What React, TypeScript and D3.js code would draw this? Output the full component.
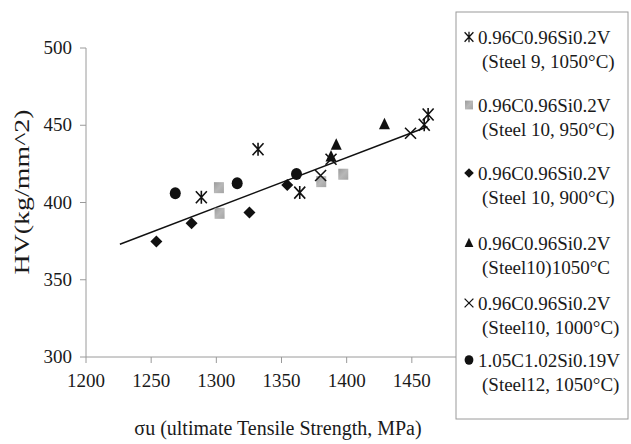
import React from "react";
import { scaleLinear, line } from "d3";

// values: [uts MPa, HV]
const steel9_1050 = [
  [1288.5, 403.4],
  [1332, 434.5],
  [1364, 406.4],
  [1459.5, 450.3],
  [1462.5, 457],
];
const steel10_950 = [
  [1302, 409.6],
  [1302.5, 393],
  [1380.5, 413.5],
  [1397.4, 418.3],
];
const steel10_900 = [
  [1254, 374.7],
  [1281, 386.6],
  [1325.4, 393.5],
  [1354.4, 411.4],
];
const steel10_1050 = [
  [1388, 429.7],
  [1392, 437.3],
  [1429, 450.7],
];
const steel10_1000 = [
  [1380, 417.5],
  [1388, 428],
  [1449, 444.8],
];
const steel12_1050 = [
  [1268.5, 406],
  [1316, 412.5],
  [1361.5, 418.5],
];
const trend = [
  [1226, 373],
  [1462, 449],
];

const xTicks = [1200, 1250, 1300, 1350, 1400, 1450];
const yTicks = [300, 350, 400, 450, 500];

const series = [
  { name: ["0.96C0.96Si0.2V", "(Steel 9, 1050°C)"], shape: "asterisk", data: steel9_1050 },
  { name: ["0.96C0.96Si0.2V", "(Steel 10, 950°C)"], shape: "square", data: steel10_950 },
  { name: ["0.96C0.96Si0.2V", "(Steel 10, 900°C)"], shape: "diamond", data: steel10_900 },
  { name: ["0.96C0.96Si0.2V", "(Steel10)1050°C"], shape: "triangle", data: steel10_1050 },
  { name: ["0.96C0.96Si0.2V", "(Steel10, 1000°C)"], shape: "cross", data: steel10_1000 },
  { name: ["1.05C1.02Si0.19V", "(Steel12, 1050°C)"], shape: "circle", data: steel12_1050 },
];

const FONT = "Liberation Serif, Tinos, DejaVu Serif, serif";
const legendRowY = [37, 105, 173, 243, 303, 360];

const Marker = ({ shape, x, y, s = 1 }) => {
  const t = `translate(${x},${y}) scale(${s})`;
  switch (shape) {
    case "asterisk":
      return (
        <g transform={t} stroke="#111" strokeWidth={1.6} fill="none">
          <path d="M-5.5,-6L5.5,6M-5.5,6L5.5,-6M0,-6.5L0,6.5" />
        </g>
      );
    case "cross":
      return (
        <g transform={t} stroke="#111" strokeWidth={1.6} fill="none">
          <path d="M-5.5,-5.5L5.5,5.5M-5.5,5.5L5.5,-5.5" />
        </g>
      );
    case "square":
      return <rect transform={t} x={-5} y={-5.5} width={10} height={11} fill="url(#sqfill)" />;
    case "diamond":
      return <path transform={t} d="M0,-6L6,0L0,6L-6,0Z" fill="#111" />;
    case "triangle":
      return <path transform={t} d="M0,-6.5L5.5,5L-5.5,5Z" fill="#111" />;
    default:
      return <ellipse transform={t} rx={5.5} ry={6} fill="#111" />;
  }
};

export default function App() {
  const x = scaleLinear().domain([1200, 1500]).range([86, 477]);
  const y = scaleLinear().domain([300, 500]).range([357, 48]);
  const trendPath = line()
    .x(d => x(d[0]))
    .y(d => y(d[1]))(trend);

  return (
    <svg
      width={631}
      height={444}
      style={{ position: "absolute", left: 0, top: 0, fontFamily: FONT }}
    >
      <defs>
        <linearGradient id="sqfill" x1="0" y1="0" x2="1" y2="1">
          <stop offset="0" stopColor="#9a9a9a" />
          <stop offset="0.5" stopColor="#b8b8b8" />
          <stop offset="1" stopColor="#a4a4a4" />
        </linearGradient>
      </defs>
      <rect width={631} height={444} fill="#fff" />

      {/* axes */}
      <line x1={x(1200)} x2={x(1200)} y1={y(500)} y2={y(300)} stroke="#9a9a9a" />
      <line x1={x(1200)} x2={x(1500)} y1={y(300)} y2={y(300)} stroke="#9a9a9a" />
      {yTicks.map(t => (
        <g key={t}>
          <line x1={x(1200) - 6} x2={x(1200)} y1={y(t)} y2={y(t)} stroke="#9a9a9a" />
          <text x={72} y={y(t) + 6} textAnchor="end" fontSize={19} fill="#1a1a1a">
            {t}
          </text>
        </g>
      ))}
      {xTicks.map(t => (
        <g key={t}>
          <line x1={x(t)} x2={x(t)} y1={y(300)} y2={y(300) + 6} stroke="#9a9a9a" />
          <text x={x(t)} y={387} textAnchor="middle" fontSize={19} fill="#1a1a1a">
            {t}
          </text>
        </g>
      ))}

      <text
        transform="translate(29,192) rotate(-90)"
        textAnchor="middle"
        fontSize={22}
        fill="#1a1a1a"
        textLength={165}
        lengthAdjust="spacingAndGlyphs"
      >
        HV(kg/mm^2)
      </text>
      <text x={278} y={435} textAnchor="middle" fontSize={20} fill="#1a1a1a">
        σu (ultimate Tensile Strength, MPa)
      </text>

      {/* trend line */}
      <path d={trendPath} stroke="#111" strokeWidth={1.5} fill="none" />

      {/* points */}
      {series.map(s =>
        s.data.map((d, i) => <Marker key={s.shape + i} shape={s.shape} x={x(d[0])} y={y(d[1])} />)
      )}

      {/* legend */}
      <rect x={456} y={12} width={172} height={407} fill="#fff" stroke="#9a9a9a" />
      {series.map((s, i) => (
        <g key={s.shape}>
          <Marker shape={s.shape} x={469} y={legendRowY[i]} s={0.8} />
          <text x={478} y={legendRowY[i] + 6.5} fontSize={19} fill="#1a1a1a">
            {s.name[0]}
          </text>
          <text x={482} y={legendRowY[i] + 30.5} fontSize={19} fill="#1a1a1a">
            {s.name[1]}
          </text>
        </g>
      ))}
    </svg>
  );
}
